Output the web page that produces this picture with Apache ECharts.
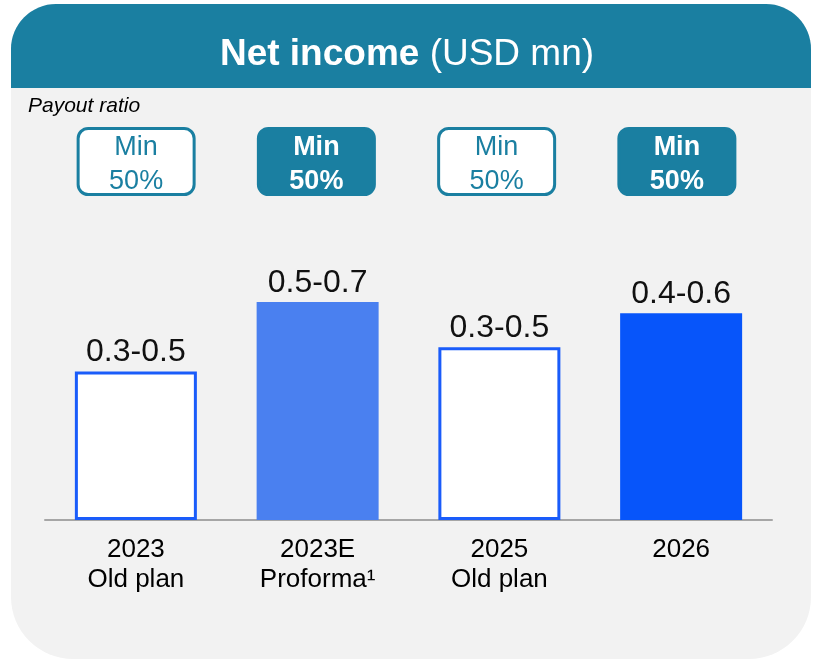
<!DOCTYPE html>
<html lang="en">
<head>
    <meta charset="UTF-8">
    <title>Net income</title>
    <script src="https://cdn.jsdelivr.net/npm/echarts@6/dist/echarts.min.js"></script>
    <style>
        html, body { margin: 0; height: 100%; background: #fff; }
        #main { width: 814px; height: 661px; }
    </style>
</head>
<body>
    <div id="main"></div>
    <script type="text/javascript">
        const chart = echarts.init(document.getElementById('main'));
        const FONT = '"Liberation Sans", Arial, sans-serif';
        const TEAL = '#1a7fa1';

        // chart data
        const categories = ['2023\nOld plan', '2023E\nProforma¹', '2025\nOld plan', '2026'];
        const ranges = ['0.3-0.5', '0.5-0.7', '0.3-0.5', '0.4-0.6'];
        const barValues = [0.46, 0.675, 0.535, 0.64];
        const barColors = ['#ffffff', '#4a80f0', '#ffffff', '#0755fa'];
        const payoutText = ['Min\n50%', 'Min\n50%', 'Min\n50%', 'Min\n50%'];
        const payoutFilled = [false, true, false, true];

        chart.setOption({
            animation: false,
            textStyle: { fontFamily: FONT },
            title: {
                text: '{b|Net income}{n| (USD mn)}',
                left: 'center',
                top: 31,
                textStyle: {
                    rich: {
                        b: { fontSize: 37, fontWeight: 'bold', color: '#fff', fontFamily: FONT },
                        n: { fontSize: 37, fontWeight: 'normal', color: '#fff', fontFamily: FONT }
                    }
                }
            },
            graphic: [
                {
                    type: 'rect', left: 11, top: 4, z: -10,
                    shape: { width: 800, height: 655, r: [45, 45, 62, 62] },
                    style: { fill: '#f2f2f2' }
                },
                {
                    type: 'rect', left: 11, top: 4, z: -9,
                    shape: { width: 800, height: 84, r: [45, 45, 0, 0] },
                    style: { fill: TEAL }
                },
                {
                    type: 'text', left: 28, top: 96,
                    style: { text: 'Payout ratio', font: 'italic 21px ' + FONT, fill: '#000' }
                }
            ],
            grid: [
                { left: 45, right: 42, top: 197, bottom: 141 },
                { left: 46, right: 47, top: 127, height: 69 }
            ],
            xAxis: [
                {
                    type: 'category', gridIndex: 0, data: categories,
                    axisLine: { lineStyle: { color: '#a6a6a6', width: 2 } },
                    axisTick: { show: false },
                    axisLabel: { fontSize: 26, lineHeight: 30, color: '#000', margin: 15, fontFamily: FONT }
                },
                {
                    type: 'category', gridIndex: 1, data: categories, show: false
                }
            ],
            yAxis: [
                { type: 'value', gridIndex: 0, min: 0, max: 1, show: false },
                { type: 'value', gridIndex: 1, min: 0, max: 1, show: false }
            ],
            series: [
                {
                    type: 'bar', xAxisIndex: 0, yAxisIndex: 0,
                    barWidth: 122,
                    data: barValues.map((v, i) => ({
                        value: v,
                        itemStyle: {
                            color: barColors[i],
                            borderColor: barColors[i] === '#ffffff' ? '#1a5cfa' : barColors[i],
                            borderWidth: barColors[i] === '#ffffff' ? 3 : 0
                        }
                    })),
                    label: {
                        show: true, position: 'top', distance: 3,
                        fontSize: 32, color: '#111', fontFamily: FONT,
                        formatter: p => ranges[p.dataIndex]
                    }
                },
                {
                    type: 'bar', xAxisIndex: 1, yAxisIndex: 1,
                    barWidth: 119,
                    data: payoutText.map((t, i) => ({
                        value: 1,
                        itemStyle: {
                            color: payoutFilled[i] ? TEAL : '#ffffff',
                            borderColor: TEAL,
                            borderWidth: 3,
                            borderRadius: 10
                        },
                        label: {
                            color: payoutFilled[i] ? '#ffffff' : TEAL,
                            fontWeight: payoutFilled[i] ? 'bold' : 'normal'
                        }
                    })),
                    label: {
                        show: true, position: 'inside', offset: [0, 3],
                        fontSize: 27, lineHeight: 34, fontFamily: FONT,
                        formatter: p => payoutText[p.dataIndex]
                    }
                }
            ]
        });
    </script>
</body>
</html>
